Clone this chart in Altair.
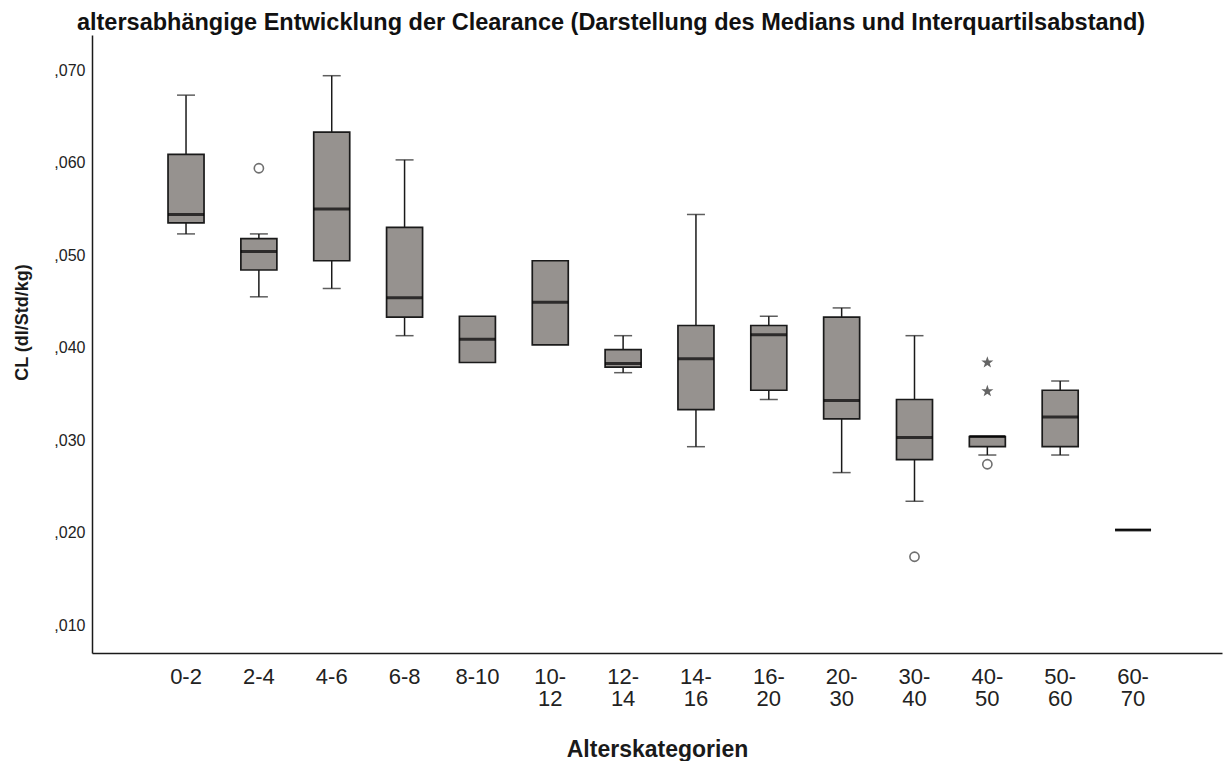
import altair as alt
import pandas as pd

# Age groups (x axis)
categories = ["0-2", "2-4", "4-6", "6-8", "8-10", "10-12", "12-14",
              "14-16", "16-20", "20-30", "30-40", "40-50", "50-60", "60-70"]

# Box-plot statistics of clearance per age group (dl/Std/kg)
whisker_low = [0.0523, 0.0455, 0.0464, 0.0413, 0.0384, 0.0403, 0.0373,
               0.0293, 0.0344, 0.0265, 0.0234, 0.0284, 0.0284, 0.0203]
q1 = [0.0535, 0.0484, 0.0494, 0.0433, 0.0384, 0.0403, 0.0379,
      0.0333, 0.0354, 0.0323, 0.0279, 0.0293, 0.0293, 0.0203]
median = [0.0544, 0.0504, 0.0550, 0.0454, 0.0409, 0.0449, 0.0383,
          0.0388, 0.0414, 0.0343, 0.0303, 0.0304, 0.0325, 0.0203]
q3 = [0.0609, 0.0518, 0.0633, 0.0530, 0.0434, 0.0494, 0.0398,
      0.0424, 0.0424, 0.0433, 0.0344, 0.0304, 0.0354, 0.0203]
whisker_high = [0.0673, 0.0523, 0.0694, 0.0603, 0.0434, 0.0494, 0.0413,
                0.0544, 0.0434, 0.0443, 0.0413, 0.0304, 0.0364, 0.0203]

# Outliers (circles) and extreme values (stars)
outlier_cat = ["2-4", "30-40", "40-50"]
outlier_val = [0.0594, 0.0174, 0.0274]
extreme_cat = ["40-50", "40-50"]
extreme_val = [0.0384, 0.0353]

boxes = pd.DataFrame({
    "cat": categories, "lower": whisker_low, "q1": q1,
    "median": median, "q3": q3, "upper": whisker_high,
})
outliers = pd.DataFrame({"cat": outlier_cat, "value": outlier_val})
extremes = pd.DataFrame({"cat": extreme_cat, "value": extreme_val})

FONT = "Liberation Sans"
INK = "#1a1a1a"
FILL = "#96928f"

x_axis = alt.Axis(
    title="Alterskategorien", labelAngle=0, labelAlign="center",
    labelBaseline="top", labelPadding=13, labelFontSize=22,
    labelLineHeight=22, labelFont=FONT, labelColor="#222",
    labelExpr="length(datum.label) > 4 ? "
              "[slice(datum.label, 0, indexof(datum.label, '-') + 1), "
              "slice(datum.label, indexof(datum.label, '-') + 1)] : datum.label",
    ticks=False, tickSize=0, grid=False,
    titleFont=FONT, titleFontSize=23, titleFontWeight="bold", titleColor=INK,
    titleBaseline="alphabetic", titleY=103,
)
y_axis = alt.Axis(
    title="CL (dl/Std/kg)", values=[0.01, 0.02, 0.03, 0.04, 0.05, 0.06, 0.07],
    labelExpr="replace(format(datum.value, '.3f'), '0.', ',')",
    labelFont=FONT, labelFontSize=16, labelColor="#222", labelPadding=7,
    ticks=False, tickSize=0, grid=False,
    titleFont=FONT, titleFontSize=18, titleFontWeight="bold", titleColor=INK,
    titleAngle=270, titleAlign="center", titleBaseline="middle",
    titleX=-70, titleY=287,
)

x_scale = alt.Scale(domain=categories, paddingInner=0, paddingOuter=0.756, align=0.523)
y_scale = alt.Scale(domain=[0.0070, 0.0738], nice=False, zero=False)


def X():
    return alt.X("cat:N", scale=x_scale, sort=categories, axis=x_axis)


def Y(field):
    return alt.Y(f"{field}:Q", scale=y_scale, axis=y_axis)


base = alt.Chart(boxes)

whisker_lo = base.transform_filter("datum.lower < datum.q1").mark_rule(
    color=INK, strokeWidth=1.5).encode(x=X(), y=Y("lower"), y2="q1")
whisker_hi = base.transform_filter("datum.upper > datum.q3").mark_rule(
    color=INK, strokeWidth=1.5).encode(x=X(), y=Y("q3"), y2="upper")
cap_lo = base.transform_filter("datum.lower < datum.q1").mark_tick(
    color=INK, size=18, thickness=1.5).encode(x=X(), y=Y("lower"))
cap_hi = base.transform_filter("datum.upper > datum.q3").mark_tick(
    color=INK, size=18, thickness=1.5).encode(x=X(), y=Y("upper"))
box = base.mark_bar(size=36, fill=FILL, stroke=INK, strokeWidth=1.7).encode(
    x=X(), y=Y("q1"), y2="q3")
med = base.mark_tick(color="#000", size=36, thickness=3).encode(
    x=X(), y=Y("median"))

circles = alt.Chart(outliers).mark_point(
    shape="circle", filled=False, size=85, strokeWidth=1.6, color="#333"
).encode(x=X(), y=Y("value"))

STAR = ("M0,-1L0.235,-0.324L0.951,-0.309L0.38,0.124L0.588,0.809L0,0.4"
        "L-0.588,0.809L-0.38,0.124L-0.951,-0.309L-0.235,-0.324Z")
stars = alt.Chart(extremes).mark_point(
    shape=STAR, filled=True, size=160, color="#222", strokeWidth=0
).encode(x=X(), y=Y("value"))

chart = alt.layer(
    whisker_lo, whisker_hi, cap_lo, cap_hi, box, med, circles, stars
).properties(
    width=1130, height=618,
    title=alt.TitleParams(
        text="altersabhängige Entwicklung der Clearance (Darstellung des Medians und Interquartilsabstand)",
        font=FONT, fontSize=23.5, fontWeight="bold", color="#111",
        anchor="middle", dx=-46, dy=25, baseline="alphabetic", offset=7,
    ),
    autosize=alt.AutoSizeParams(type="none"),
    padding={"left": 92, "top": 35, "right": 6, "bottom": 108},
    background="white",
).configure_view(stroke=None).configure_axis(
    domainColor=INK, domainWidth=1.5,
)

chart.save("out.html", embed_options={"renderer": "svg", "actions": False})
